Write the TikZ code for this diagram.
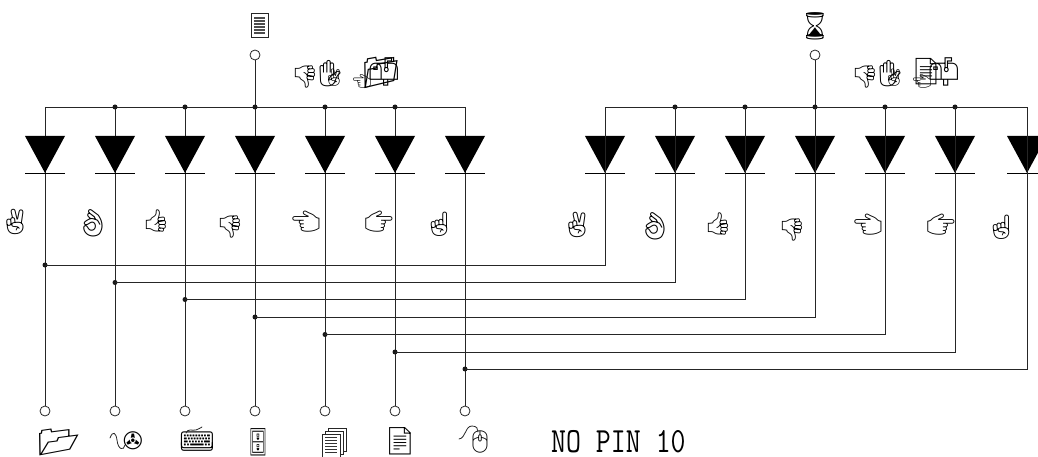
\documentclass[tikz,border=0pt]{standalone}
\usepackage{fontspec}
\newfontfamily\emo{Noto Emoji}
\newfontfamily\dv{DejaVu Sans}
\setmonofont{Latin Modern Mono}
\tikzset{
 wire/.style={line width=0.9pt,black!85},
 term/.style={circle,draw=black!85,fill=white,line width=0.8pt,minimum size=10pt,inner sep=0pt},
 junc/.style={circle,fill=black!90,minimum size=5pt,inner sep=0pt},
 ico/.style={inner sep=0pt},
 icoline/.style={line width=0.8pt,black!85,line cap=round},
 pagebox/.style={draw=black!85,fill=white,line width=0.8pt},
}
\newcommand{\emoS}[1]{\emo\fontsize{#1}{#1}\selectfont}
\newcommand{\diode}[2]{%
 \fill (#1-20,#2) -- (#1+20,#2) -- (#1,#2+37) -- cycle;
 \draw[line width=0.8pt] (#1-20,#2+37) -- (#1+20,#2+37);}
\begin{document}
\begin{tikzpicture}[x=1pt,y=-1pt]
\useasboundingbox (0,0) rectangle (1038,457);
\clip (0,0) rectangle (1038,457);
\foreach \x/\n in {45/a,115/b,185/c,255/d,325/e,395/f,465/g}{
 \coordinate (bus\n) at (\x,107);
 \node[term] (bot\n) at (\x,411) {};
 \draw[wire] (bus\n) -- (bot\n);
 \diode{\x}{136}
}
\foreach \x/\n in {605/a,675/b,745/c,815/d,885/e,955/f,1027/g}{
 \coordinate (rbus\n) at (\x,107);
 \diode{\x}{136}
}
\draw[wire] (busa) -- (busg);
\draw[wire] (rbusa) -- (rbusg);
\node[term] (topl) at (255,55) {};
\node[term] (topr) at (815,55) {};
\draw[wire] (topl) -- (busd);
\draw[wire] (topr) -- (rbusd);
\foreach \n in {b,c,d,e,f}{\node[junc] at (bus\n) {}; \node[junc] at (rbus\n) {};}
\foreach \n/\y in {a/265,b/282.5,c/299.5,d/317,e/334.5,f/352,g/369}{
 \node[junc] (j\n) at (bus\n |- 0,\y) {};
 \coordinate (k\n) at (rbus\n |- 0,\y);
 \draw[wire] (j\n.center) -- (k\n) -- (rbus\n);
}
% hands
\foreach \dx/\dy in {0/0,562/3}{
 \node[ico,font=\emoS{25}] at (15+\dx,222+\dy) {✌};
 \node[ico,font=\emoS{27}] at (93+\dx,223+\dy) {👌};
 \node[ico,font=\emoS{22}] at (156+\dx,221+\dy) {👍};
 \node[ico,font=\emoS{22}] at (230+\dx,227+\dy) {👎};
 \node[ico,font=\emoS{23}] at (306+\dx,222+\dy) {👈};
 \node[ico,font=\emoS{23}] at (379+\dx,222+\dy) {👉};
 \node[ico,font=\emoS{24}] at (439+\dx,224+\dy) {☝};
}
\foreach \dx in {0,560}{
 \node[ico,font=\emoS{22}] at (305+\dx,77) {👎};
 \node[ico,font=\emoS{26}] at (330+\dx,74) {✋};
 \node[ico,font=\emoS{17}] at (334+\dx,78) {✌};
}
% overprinted symbols, left
\node[ico,font=\emoS{15}] at (362,81) {👈};
\node[ico,font=\emoS{31}] at (381,73) {📁};
\node[ico,font=\emoS{28}] at (384,72) {📫};
% overprinted symbols, right
\node[ico,font=\emoS{15}] at (922,81) {👈};
\node[ico,font=\emoS{26}] at (926,72) {📄};
\node[ico,font=\emoS{28}] at (944,72) {📫};
% document (no font has this symbol)
\draw[pagebox,line width=1pt] (251,14) rectangle (268,38);
\foreach \yy in {18,21,24,27,30,33}{\draw[line width=1.2pt,black!70] (254,\yy) -- (265,\yy);}
\node[ico,font=\emoS{27}] at (815,26) {⌛};
% bottom row
\node[ico,yscale=0.78,font=\emoS{34}] at (59,442) {📂};
\node[ico,font=\dv\fontsize{24}{24}\selectfont] (tape) at (133,441) {✇};
\draw[icoline] (110,438) .. controls (113,430) and (116,433) .. (117,440) .. controls (118,450) and (124,451) .. (125,445);
\node[ico,font=\emoS{29}] (keys) at (197,442) {⌨};
\draw[icoline] (186,433) .. controls (188,428) and (192,431) .. (196,430) .. controls (199,429) and (200,428) .. (202,427);
\node[ico,xscale=0.55,font=\emoS{27}] at (258,442) {🗄};
% page stack (no font has this symbol)
\foreach \o in {6,3,0}{
 \draw[pagebox] (322+\o,434-\o) rectangle (340+\o,457-\o);
}
\foreach \yy in {437,440,443,446,449,452}{\draw[line width=0.9pt,black!80] (325,\yy) -- (337,\yy);}
\node[ico,font=\emoS{27}] at (400,441) {📄};
\node[ico,font=\emoS{22}] at (480,442) {🖱};
\draw[icoline] (459,439) .. controls (466,438) and (465,426) .. (472,426) .. controls (477,426) and (478,429) .. (478,432);
\node[ico,anchor=west,yscale=1.22,font=\ttfamily\fontsize{29}{29}\selectfont] (lbl) at (551,442) {NO PIN 10};
\end{tikzpicture}
\end{document}
